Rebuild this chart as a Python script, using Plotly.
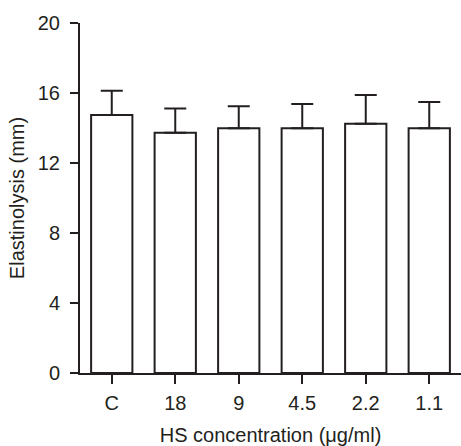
import plotly.graph_objects as go

categories = ["C", "18", "9", "4.5", "2.2", "1.1"]
values = [14.74, 13.73, 13.98, 13.98, 14.25, 13.98]
errors_up = [1.39, 1.39, 1.26, 1.39, 1.64, 1.51]
y_ticks = [0, 4, 8, 12, 16, 20]

ink = "#231f20"
font = dict(family="Liberation Sans, Arial, sans-serif", size=20, color=ink)

fig = go.Figure()
fig.add_trace(go.Bar(
    x=categories,
    y=values,
    width=0.65,
    marker=dict(color="white", line=dict(color=ink, width=2)),
    error_y=dict(type="data", symmetric=False, array=errors_up,
                 arrayminus=[0] * len(values), color=ink, thickness=2, width=11),
))

fig.update_layout(
    width=461, height=446,
    margin=dict(l=80, r=0, t=23, b=73),
    plot_bgcolor="white", paper_bgcolor="white",
    font=font,
    showlegend=False,
    bargap=0.35,
)
fig.update_xaxes(
    type="category", range=[-0.5, 5.5],
    showline=True, linecolor=ink, linewidth=2,
    ticks="outside", ticklen=9, tickwidth=2, tickcolor=ink,
    ticklabelstandoff=2,
    showgrid=False, zeroline=False,
    title=dict(text="HS concentration (μg/ml)", font=font, standoff=16),
    automargin=False,
)
fig.update_yaxes(
    range=[0, 20], tickvals=y_ticks,
    showline=True, linecolor=ink, linewidth=2,
    ticks="outside", ticklen=8, tickwidth=2, tickcolor=ink,
    ticklabelstandoff=6,
    showgrid=False, zeroline=False,
    title=dict(text="Elastinolysis (mm)", font=font, standoff=8),
    automargin=False,
)

fig.write_html("out.html")
